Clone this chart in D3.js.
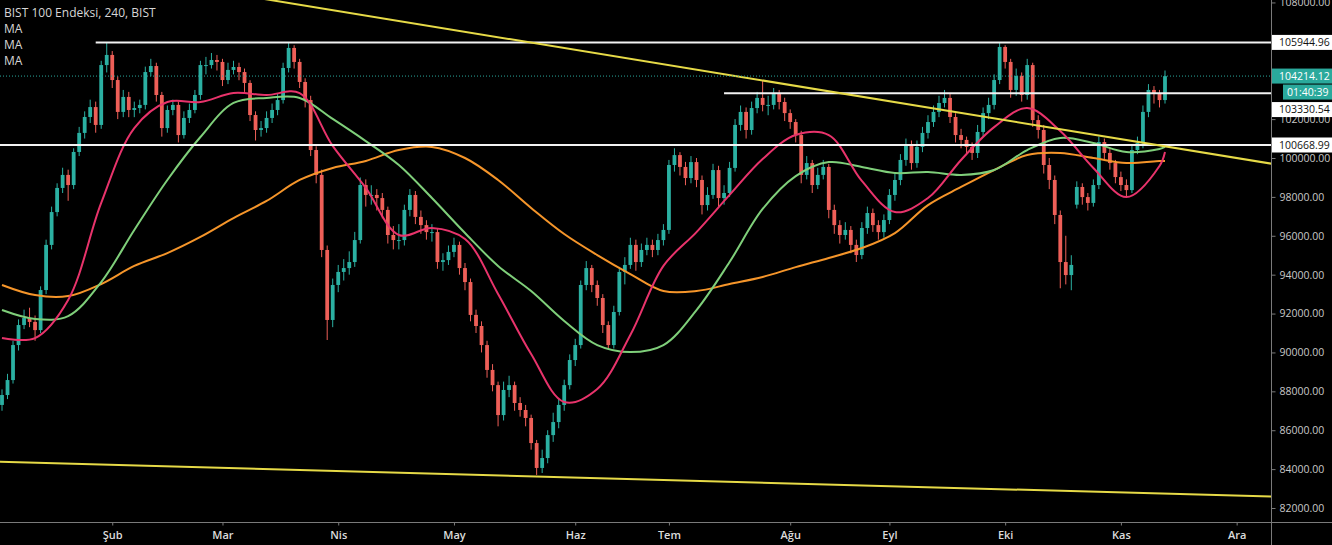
<!DOCTYPE html>
<html><head><meta charset="utf-8">
<script src="https://cdn.jsdelivr.net/npm/d3@7"></script>
<style>html,body{margin:0;padding:0;background:#000;overflow:hidden}
text{font-family:'Open Sans','Noto Sans',sans-serif}</style>
</head><body><svg id="c" width="1332" height="545"></svg>
<script>
// ---- data (prices in thousands of index points) ----
const title = "BIST 100 Endeksi, 240, BIST";
const legendLabels = ["MA", "MA", "MA"];
const monthLabels = ["Şub","Mar","Nis","May","Haz","Tem","Ağu","Eyl","Eki","Kas","Ara"];
const monthIndex = [20, 40, 61, 82, 104, 121, 143, 161, 182, 203, 224];
const yTicks = [82, 84, 86, 88, 90, 92, 94, 96, 98, 100, 102, 108];

const open = [87.30, 87.81, 88.58, 90.38, 91.41, 91.77, 91.57, 91.15, 93.21, 95.53,
97.22, 98.46, 99.13, 98.61, 100.31, 101.29, 102.11, 102.62, 101.70, 104.78,
105.30, 104.01, 102.37, 103.14, 102.47, 102.57, 102.73, 104.42, 104.73, 103.24,
101.54, 102.47, 102.73, 101.18, 102.06, 102.47, 103.24, 104.78, 104.78, 105.04,
104.94, 104.01, 104.53, 104.68, 104.42, 103.86, 102.21, 101.44, 101.54, 102.06,
102.47, 102.98, 104.63, 105.66, 104.94, 103.91, 102.98, 100.41, 99.13, 95.27,
91.67, 93.47, 94.14, 94.34, 94.65, 95.78, 98.61, 98.10, 98.10, 97.94,
97.33, 96.04, 95.78, 95.78, 97.33, 98.10, 96.97, 96.55, 96.19, 96.19,
94.65, 94.75, 95.17, 95.53, 94.34, 93.62, 91.93, 91.36, 90.38, 89.10,
88.32, 86.78, 88.07, 88.32, 87.40, 87.04, 86.63, 85.34, 84.06, 84.57,
85.75, 86.42, 87.30, 88.32, 89.61, 90.38, 93.47, 94.34, 93.47, 92.80,
91.41, 90.38, 92.08, 94.14, 94.50, 95.53, 94.65, 95.27, 95.53, 95.27,
95.78, 96.30, 99.64, 100.15, 99.54, 98.97, 99.79, 98.87, 97.58, 98.10,
99.38, 97.94, 98.20, 99.49, 101.70, 102.37, 101.44, 102.57, 103.09, 102.73,
102.73, 103.29, 102.88, 102.31, 101.85, 101.18, 99.13, 99.74, 98.61, 99.13,
99.54, 97.33, 96.55, 96.04, 96.30, 95.53, 95.01, 96.40, 97.17, 96.55,
96.19, 96.81, 98.10, 98.87, 99.90, 100.67, 99.74, 100.57, 101.29, 101.85,
102.37, 102.83, 103.09, 102.11, 101.18, 100.93, 100.57, 100.26, 101.34, 102.31,
102.73, 104.01, 105.71, 104.94, 103.50, 104.22, 103.24, 104.78, 101.95, 101.44,
99.64, 98.87, 97.07, 94.65, 93.98, 97.60, 98.51, 97.99, 97.69, 98.61,
100.82, 100.26, 99.74, 99.02, 98.61, 98.35, 100.41, 100.77, 102.37, 103.50,
103.34, 102.98];

const high = [88.1, 88.9, 90.6, 91.7, 92.2, 92.3, 91.9, 93.4, 95.8, 97.5,
98.7, 99.5, 99.4, 100.5, 101.6, 102.4, 103.0, 102.9, 105.0, 105.94,
105.5, 104.2, 103.5, 103.4, 102.9, 103.0, 104.7, 105.1, 104.9, 103.4,
102.7, 103.0, 102.9, 102.4, 102.8, 103.5, 105.0, 105.2, 105.4, 105.3,
105.1, 104.9, 105.0, 104.9, 104.6, 104.0, 102.4, 101.9, 102.4, 102.8,
103.3, 104.9, 105.94, 105.8, 105.1, 104.1, 103.2, 100.6, 99.4, 95.5,
93.8, 94.5, 94.8, 95.2, 96.2, 99.0, 98.9, 98.6, 98.4, 98.2,
97.5, 96.5, 96.6, 97.6, 98.4, 98.3, 97.3, 96.8, 96.6, 96.4,
95.1, 95.5, 95.9, 95.7, 94.6, 93.8, 92.2, 91.6, 90.6, 89.4,
88.5, 88.5, 88.8, 88.5, 87.7, 87.3, 86.8, 85.5, 85.0, 86.0,
86.9, 87.6, 88.6, 89.9, 90.7, 93.7, 94.7, 94.5, 93.7, 93.0,
91.6, 92.4, 94.4, 94.9, 95.9, 95.8, 95.6, 95.9, 95.8, 96.1,
96.6, 99.9, 100.5, 100.3, 99.8, 100.1, 100.0, 99.1, 98.5, 99.7,
99.6, 98.6, 99.8, 102.0, 102.7, 102.6, 102.9, 103.4, 104.01, 103.2,
103.6, 103.5, 103.1, 102.5, 102.0, 101.4, 100.1, 99.9, 99.5, 99.9,
99.7, 97.6, 96.8, 96.7, 96.5, 95.8, 96.7, 97.5, 97.4, 96.8,
97.1, 98.4, 99.2, 100.2, 101.0, 100.9, 100.9, 101.6, 102.2, 102.7,
103.2, 103.5, 103.3, 102.3, 101.5, 101.1, 100.8, 101.7, 102.6, 103.1,
104.3, 105.94, 105.8, 105.1, 104.6, 104.4, 105.1, 104.9, 102.2, 101.7,
100.0, 99.1, 97.3, 96.0, 95.0, 98.8, 98.7, 98.2, 98.9, 101.1,
101.0, 100.5, 99.9, 99.3, 98.9, 100.7, 101.1, 102.7, 103.8, 103.7,
103.5, 104.5];

const low = [87.0, 87.6, 88.4, 90.1, 91.2, 91.3, 90.6, 91.0, 93.0, 95.3,
97.0, 98.2, 97.8, 98.4, 100.1, 101.0, 101.8, 101.3, 101.5, 104.4,
103.6, 102.0, 102.1, 102.1, 102.1, 102.3, 102.5, 104.2, 102.9, 101.1,
101.3, 102.2, 100.8, 101.0, 101.8, 102.3, 103.0, 104.3, 104.6, 104.5,
103.7, 103.8, 104.3, 104.0, 103.4, 101.9, 100.9, 101.1, 101.3, 101.8,
102.2, 102.8, 104.4, 104.6, 103.6, 102.6, 100.1, 98.7, 94.9, 90.64,
91.3, 93.1, 93.7, 94.0, 94.4, 95.6, 97.5, 97.6, 97.3, 96.9,
95.6, 95.3, 95.3, 95.5, 97.0, 96.6, 96.1, 95.8, 95.7, 94.3,
94.2, 94.5, 94.9, 94.0, 93.2, 91.6, 91.0, 90.0, 88.7, 88.0,
86.2, 86.5, 87.7, 87.0, 86.7, 86.2, 85.0, 83.70, 83.8, 84.3,
85.4, 86.1, 87.0, 88.1, 89.3, 90.2, 93.2, 93.1, 92.4, 91.0,
90.2, 90.2, 91.9, 93.5, 94.3, 94.2, 94.4, 95.0, 94.9, 95.0,
95.5, 96.1, 99.3, 99.1, 98.6, 98.7, 98.5, 97.1, 97.3, 97.9,
97.5, 97.6, 98.0, 99.3, 101.4, 101.0, 101.2, 102.3, 102.4, 102.2,
102.5, 102.5, 101.9, 101.5, 100.8, 98.7, 98.9, 98.2, 98.4, 98.9,
96.9, 96.1, 95.6, 95.8, 95.1, 94.65, 94.8, 96.1, 96.2, 95.8,
95.9, 96.6, 97.8, 98.6, 99.6, 99.4, 99.5, 100.3, 101.0, 101.6,
102.1, 102.6, 101.8, 100.8, 100.5, 100.2, 99.9, 100.0, 101.1, 102.0,
102.5, 103.8, 104.6, 103.1, 103.2, 102.9, 103.0, 101.6, 101.0, 99.2,
98.4, 96.6, 93.3, 93.5, 93.2, 97.4, 97.6, 97.3, 97.5, 98.4,
99.9, 99.4, 98.7, 98.3, 97.99, 98.2, 100.2, 100.5, 102.1, 102.8,
102.6, 102.8];

const close = [87.81, 88.58, 90.38, 91.41, 91.77, 91.57, 91.15, 93.21, 95.53, 97.22,
98.46, 99.13, 98.61, 100.31, 101.29, 102.11, 102.62, 101.70, 104.78, 105.30,
104.01, 102.37, 103.14, 102.47, 102.57, 102.73, 104.42, 104.73, 103.24, 101.54,
102.47, 102.73, 101.18, 102.06, 102.47, 103.24, 104.78, 104.78, 105.04, 104.94,
104.01, 104.53, 104.68, 104.42, 103.86, 102.21, 101.44, 101.54, 102.06, 102.47,
102.98, 104.63, 105.66, 104.94, 103.91, 102.98, 100.41, 99.13, 95.27, 91.67,
93.47, 94.14, 94.34, 94.65, 95.78, 98.61, 98.10, 98.10, 97.94, 97.33,
96.04, 95.78, 95.78, 97.33, 98.10, 96.97, 96.55, 96.19, 96.19, 94.65,
94.75, 95.17, 95.53, 94.34, 93.62, 91.93, 91.36, 90.38, 89.10, 88.32,
86.78, 88.07, 88.32, 87.40, 87.04, 86.63, 85.34, 84.06, 84.57, 85.75,
86.42, 87.30, 88.32, 89.61, 90.38, 93.47, 94.34, 93.47, 92.80, 91.41,
90.38, 92.08, 94.14, 94.50, 95.53, 94.65, 95.27, 95.53, 95.27, 95.78,
96.30, 99.64, 100.15, 99.54, 98.97, 99.79, 98.87, 97.58, 98.10, 99.38,
97.94, 98.20, 99.49, 101.70, 102.37, 101.44, 102.57, 103.09, 102.73, 102.73,
103.29, 102.88, 102.31, 101.85, 101.18, 99.13, 99.74, 98.61, 99.13, 99.54,
97.33, 96.55, 96.04, 96.30, 95.53, 95.01, 96.40, 97.17, 96.55, 96.19,
96.81, 98.10, 98.87, 99.90, 100.67, 99.74, 100.57, 101.29, 101.85, 102.37,
102.83, 103.09, 102.11, 101.18, 100.93, 100.57, 100.26, 101.34, 102.31, 102.73,
104.01, 105.71, 104.94, 103.50, 104.22, 103.24, 104.78, 101.95, 101.44, 99.64,
98.87, 97.07, 94.65, 93.98, 94.50, 98.51, 97.99, 97.69, 98.61, 100.82,
100.26, 99.74, 99.02, 98.61, 98.35, 100.41, 100.77, 102.37, 103.50, 103.34,
102.98, 104.21];

// moving averages, read at sampled candle indices
const maIndex = [0,6,12,18,24,30,36,42,48,54,60,66,72,78,84,90,96,102,108,114,120,126,132,138,144,150,156,162,168,174,180,186,192,198,204,210,211];
const maFast = [90.74, 90.74, 92.70, 97.69, 101.54, 102.88, 102.88, 103.34, 103.24, 103.34,
100.62, 98.46, 96.04, 96.40, 95.83, 93.01, 89.92, 87.45, 88.12, 90.90,
94.45, 96.19, 98.10, 99.95, 101.18, 101.18, 98.82, 97.22, 97.94, 99.90,
101.59, 102.57, 101.39, 99.49, 97.99, 99.59, 100.31];
const maMid = [92.18, 91.72, 91.87, 93.62, 96.30, 98.87, 101.08, 102.83, 103.09, 103.09,
102.01, 100.87, 99.64, 97.94, 96.14, 94.45, 93.16, 91.62, 90.38, 90.02,
90.38, 92.18, 94.65, 97.38, 99.07, 99.79, 99.54, 99.23, 99.28, 99.13,
99.38, 100.41, 101.03, 100.77, 100.31, 100.46, 100.57];
const maSlow = [93.47, 92.95, 92.90, 93.52, 94.45, 95.11, 95.94, 96.91, 97.79, 98.87,
99.49, 99.85, 100.41, 100.57, 100.00, 98.87, 97.43, 96.09, 95.01, 94.03,
93.16, 93.16, 93.52, 93.88, 94.39, 94.86, 95.37, 96.14, 97.58, 98.51,
99.38, 100.15, 100.26, 100.00, 99.74, 99.85, 99.85];

const levelValues = [105.94496, 103.33054, 100.66899];
const levelStartIndex = [17, 131, -1];
const lastPrice = 104.21412;
const countdown = "01:40:39";
const trendUpperIdx = [40, 235], trendUpperVal = [108.53, 99.49];
const trendLowerIdx = [-1, 235], trendLowerVal = [84.38, 82.55];

// ---- layout ----
const W = 1332, H = 545, plotR = 1271, plotB = 522;
const C = {up:"#2bb0a2", down:"#ee5f58", fast:"#e8336b", mid:"#7fcf7a", slow:"#f5952a",
  level:"#f2f2f2", trend:"#e6da47", axis:"#7a7a7a", tick:"#c8c8c8", teal:"#2aa99c"};

const svg = d3.select("#c");
svg.append("rect").attr("width", W).attr("height", H).attr("fill", "#000");

const x = d3.scaleLinear().domain([0, 211]).range([2, 1165]);
const y = d3.scaleLinear().domain([81.28, 108.126]).range([plotB, 0]);

svg.append("clipPath").attr("id", "clip").append("rect")
  .attr("x", 0).attr("y", 0).attr("width", plotR).attr("height", plotB);
const plot = svg.append("g").attr("clip-path", "url(#clip)");

// candles
const idx = d3.range(close.length);
const col = i => close[i] >= open[i] ? C.up : C.down;
const bw = 3.8;
plot.append("g").selectAll("line").data(idx).join("line")
  .attr("x1", i => x(i)).attr("x2", i => x(i))
  .attr("y1", i => y(high[i])).attr("y2", i => y(low[i]))
  .attr("stroke", col).attr("stroke-width", 1);
plot.append("g").selectAll("rect").data(idx).join("rect")
  .attr("x", i => x(i) - bw / 2).attr("width", bw)
  .attr("y", i => y(Math.max(open[i], close[i])))
  .attr("height", i => Math.max(1, Math.abs(y(open[i]) - y(close[i]))))
  .attr("fill", col);

// moving averages
const maLine = d3.line().x((d, k) => x(maIndex[k])).y(d => y(d)).curve(d3.curveCatmullRom.alpha(0.5));
[[maSlow, C.slow], [maMid, C.mid], [maFast, C.fast]].forEach(([arr, c]) => {
  plot.append("path").attr("d", maLine(arr)).attr("fill", "none")
    .attr("stroke", c).attr("stroke-width", 2);
});

// horizontal levels
levelValues.forEach((v, k) => {
  plot.append("line").attr("x1", Math.max(0, x(levelStartIndex[k]))).attr("x2", plotR)
    .attr("y1", y(v)).attr("y2", y(v)).attr("stroke", C.level).attr("stroke-width", 2);
});

// trend lines
[[trendUpperIdx, trendUpperVal], [trendLowerIdx, trendLowerVal]].forEach(([ix, vv]) => {
  plot.append("line").attr("x1", x(ix[0])).attr("y1", y(vv[0]))
    .attr("x2", x(ix[1])).attr("y2", y(vv[1]))
    .attr("stroke", C.trend).attr("stroke-width", 2);
});

// last price dotted line
plot.append("line").attr("x1", 0).attr("x2", plotR).attr("y1", y(lastPrice)).attr("y2", y(lastPrice))
  .attr("stroke", C.teal).attr("stroke-width", 1).attr("stroke-dasharray", "1,2");

// axes
svg.append("line").attr("x1", 0).attr("x2", W).attr("y1", plotB + 0.5).attr("y2", plotB + 0.5)
  .attr("stroke", C.axis).attr("stroke-width", 1);
svg.append("line").attr("x1", plotR + 0.5).attr("x2", plotR + 0.5).attr("y1", 0).attr("y2", H)
  .attr("stroke", C.axis).attr("stroke-width", 1);

const yAxis = svg.append("g").attr("transform", `translate(${plotR + 0.5},0)`)
  .call(d3.axisRight(y).tickValues(yTicks).tickSize(4).tickPadding(4)
    .tickFormat(v => d3.format(".2f")(v * 1000)));
yAxis.select(".domain").remove();
yAxis.selectAll("line").attr("stroke", C.axis);
yAxis.selectAll("text").attr("fill", C.tick).attr("font-size", 10.5)
  .style("font-family", "'Open Sans','Noto Sans',sans-serif");

const xAxis = svg.append("g").attr("transform", `translate(0,${plotB + 0.5})`)
  .call(d3.axisBottom(x).tickValues(monthIndex).tickSize(3).tickPadding(6)
    .tickFormat((d, k) => monthLabels[k]));
xAxis.select(".domain").remove();
xAxis.selectAll("line").attr("stroke", C.axis);
xAxis.selectAll("text").attr("fill", "#dcdcdc").attr("font-size", 11).attr("font-weight", 600)
  .style("font-family", "'Open Sans','Noto Sans',sans-serif");

// price labels on the axis
const fmt = v => d3.format(".2f")(v * 1000);
function tag(cy, txt, fill, color, x0) {
  const g = svg.append("g");
  g.append("rect").attr("x", x0).attr("y", cy - 7.5).attr("width", W - x0).attr("height", 15).attr("fill", fill);
  g.append("text").attr("x", plotR + 8).attr("y", cy).attr("dy", "0.35em")
    .attr("fill", color).attr("font-size", 10.5).text(txt);
}
const yPrice = y(lastPrice);
tag(y(levelValues[0]), fmt(levelValues[0]), "#ffffff", "#111", plotR + 1);
tag(y(levelValues[2]), fmt(levelValues[2]), "#ffffff", "#111", plotR + 1);
tag(Math.max(y(levelValues[1]), yPrice + 33.5), fmt(levelValues[1]), "#ffffff", "#111", plotR + 1);
tag(yPrice, fmt(lastPrice), C.teal, "#ffffff", plotR + 1);
const cd = svg.append("g");
cd.append("rect").attr("x", 1283).attr("y", yPrice + 8.5).attr("width", W - 1283).attr("height", 15).attr("fill", C.teal);
cd.append("text").attr("x", 1287).attr("y", yPrice + 16).attr("dy", "0.35em").attr("fill", "#fff")
  .attr("font-size", 10.5).text(countdown);

// legend
const lg = svg.append("g");
lg.append("text").attr("x", 4).attr("y", 17).attr("fill", "#d6d6d6").attr("font-size", 12).text(title);
legendLabels.forEach((t, k) => {
  lg.append("text").attr("x", 4).attr("y", 33 + 16 * k).attr("fill", "#d6d6d6").attr("font-size", 12).text(t);
});
</script></body></html>
